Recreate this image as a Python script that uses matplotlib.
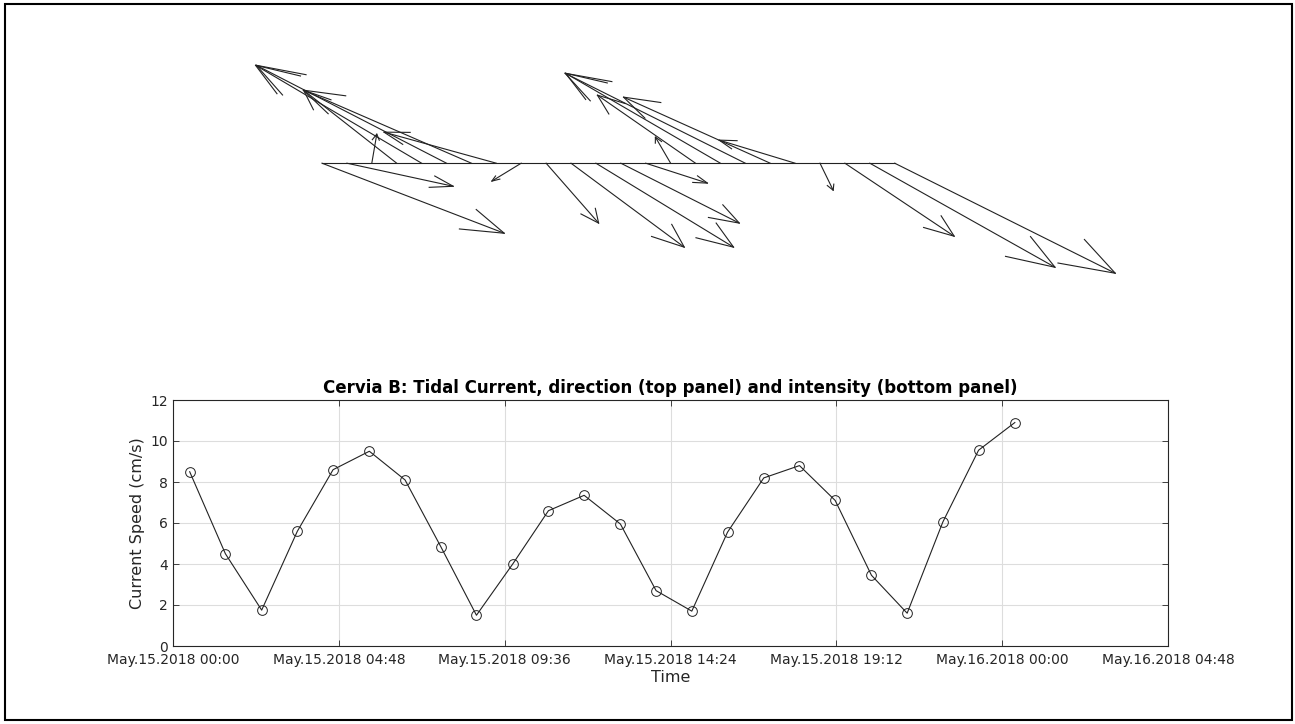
import matplotlib
matplotlib.use('Agg')
import matplotlib.pyplot as plt
import matplotlib.dates as mdates
import numpy as np
import pandas as pd

# sample times and measured speed (cm/s)
times = ['2018-05-15 00:29', '2018-05-15 01:31', '2018-05-15 02:34', '2018-05-15 03:36',
         '2018-05-15 04:38', '2018-05-15 05:41', '2018-05-15 06:43', '2018-05-15 07:45',
         '2018-05-15 08:47', '2018-05-15 09:50', '2018-05-15 10:52', '2018-05-15 11:54',
         '2018-05-15 12:57', '2018-05-15 13:59', '2018-05-15 15:01', '2018-05-15 16:03',
         '2018-05-15 17:06', '2018-05-15 18:08', '2018-05-15 19:10', '2018-05-15 20:13',
         '2018-05-15 21:15', '2018-05-15 22:17', '2018-05-15 23:19', '2018-05-16 00:22']
speed = [8.5, 4.5, 1.75, 5.6, 8.6, 9.5, 8.1, 4.85, 1.5, 4.0, 6.6, 7.35,
         5.95, 2.7, 1.7, 5.55, 8.2, 8.8, 7.1, 3.45, 1.6, 6.05, 9.55, 10.9]

# east / north components (cm/s) for the stick plot
u = [7.32, 4.27, 0.2, -3.74, -6.67, -7.64, -6.75, -4.51, -1.18, 2.11, 4.55, 5.53,
     4.76, 2.48, -0.61, -3.94, -6.22, -7.24, -5.89, -3.05, 0.53, 4.39, 7.44, 8.86]
v = [-4.22, -1.39, 1.75, 4.40, 5.90, 5.90, 4.40, 1.87, -1.08, -3.61, -5.06, -5.06,
     -3.61, -1.20, 1.57, 4.10, 5.42, 5.42, 3.98, 1.39, -1.63, -4.40, -6.27, -6.63]

t = pd.to_datetime(times)
fig = plt.figure(figsize=(12.95, 7.24), dpi=100)

# frame round the figure
fig.patches.append(plt.Rectangle((0.0035, 0.005), 0.9945, 0.99, transform=fig.transFigure,
                                 fill=False, edgecolor='black', linewidth=1.5))

# top panel: stick plot, no axes
px = 24.9
ax1 = fig.add_axes([(322 - 12 * px) / 1295, (724 - 296) / 724, 48 * px / 1295, 265.6 / 724])
ax1.set_xlim(-12, 36)
ax1.set_ylim(-8, 8)
ax1.axis('off')
n = len(u)
x0 = np.arange(n)
ax1.plot([x0[0], x0[-1]], [0, 0], color='#222222', lw=0.8)
alpha, beta = 0.2, 0.4
for i in range(n):
    xt, yt = x0[i] + u[i], v[i]
    ax1.plot([x0[i], xt], [0, yt], color='#222222', lw=0.8)
    h1 = (xt - alpha * (u[i] + beta * v[i]), yt - alpha * (v[i] - beta * u[i]))
    h2 = (xt - alpha * (u[i] - beta * v[i]), yt - alpha * (v[i] + beta * u[i]))
    ax1.plot([h1[0], xt, h2[0]], [h1[1], yt, h2[1]], color='#222222', lw=0.8)

# bottom panel: speed
ax2 = fig.add_axes([173 / 1295, (724 - 646) / 724, 995 / 1295, 246 / 724])
ax2.plot(t, speed, color='#222222', lw=0.8, marker='o', markersize=7,
         markerfacecolor='none', markeredgewidth=0.7)
start = pd.Timestamp('2018-05-15 00:00')
ticks = [start + pd.Timedelta(minutes=288 * k) for k in range(7)]
ax2.set_xlim(ticks[0], ticks[-1])
ax2.set_xticks(ticks)
ax2.xaxis.set_major_formatter(mdates.DateFormatter('%b.%d.%Y %H:%M'))
ax2.set_ylim(0, 12)
ax2.set_yticks(range(0, 13, 2))
ax2.grid(True, color='#dddddd', lw=0.8)
ax2.tick_params(direction='in', top=True, right=True, labelsize=10, colors='#262626',
                length=4, width=0.6)
ax2.tick_params(axis='x', pad=5)
for s in ax2.spines.values():
    s.set_color('#262626')
    s.set_linewidth(0.8)
ax2.set_xlabel('Time', fontsize=11.5, color='#262626', labelpad=2)
ax2.set_ylabel('Current Speed (cm/s)', fontsize=11.5, color='#262626')
ax2.set_title('Cervia B: Tidal Current, direction (top panel) and intensity (bottom panel)',
              fontsize=12, fontweight='bold', pad=5)

fig.savefig('out.png', dpi=100)
